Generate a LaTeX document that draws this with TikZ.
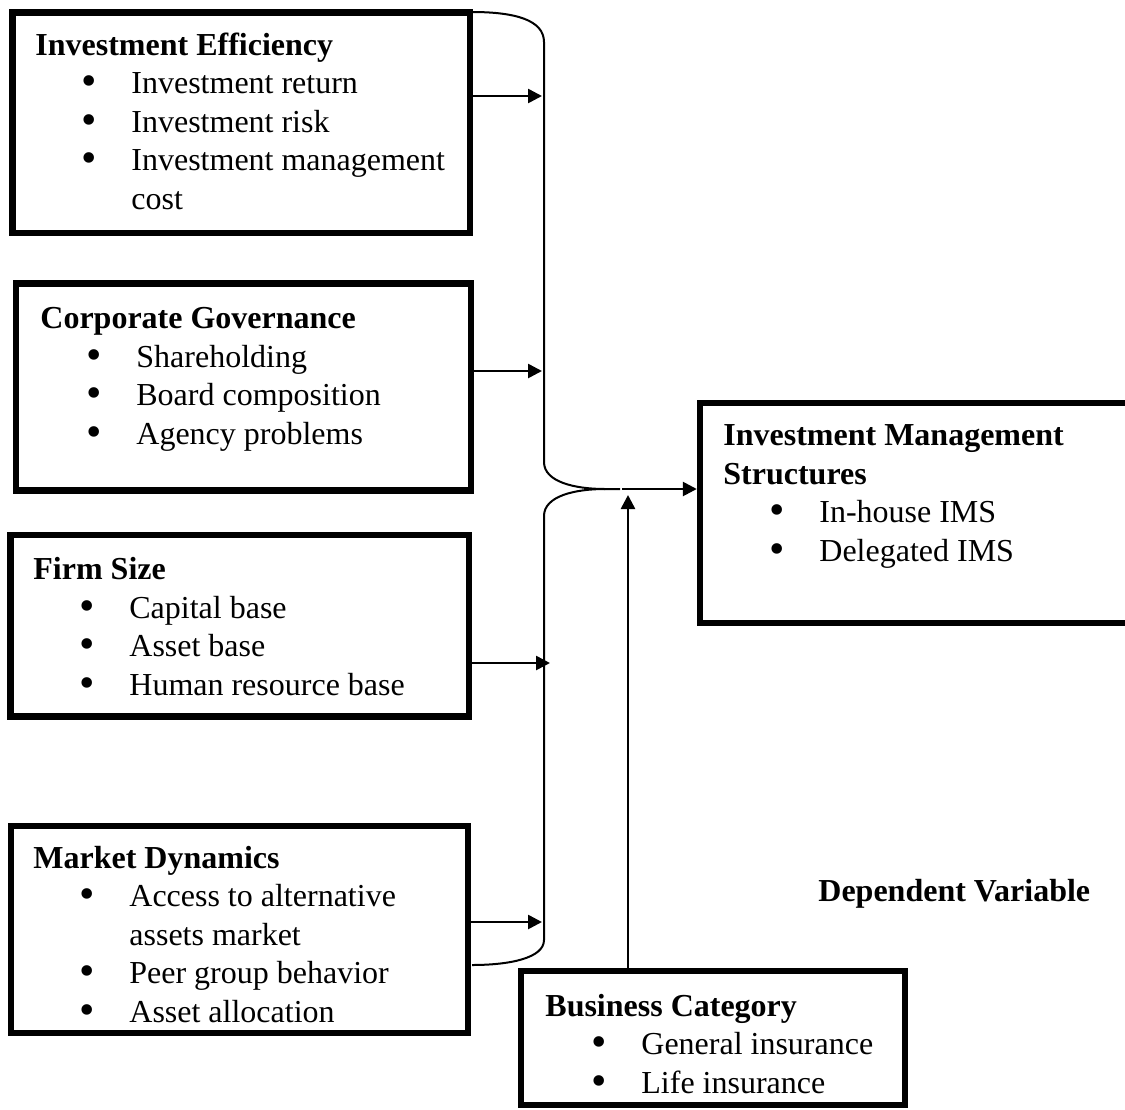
\documentclass[tikz,border=0pt]{standalone}
\usepackage{fontspec}
\setmainfont{Liberation Serif}
\usepackage{tikz}
\usetikzlibrary{arrows.meta,positioning,calc}
\newcommand{\itembul}{\hspace*{23.15pt}\makebox[24.85pt][l]{\smash{\raisebox{-1pt}{\fontsize{22}{22}\selectfont\textbullet}}}}
\newcommand{\itemcont}{\hspace*{48pt}}

\begin{document}
\begin{tikzpicture}[
  x=0.5pt, y=-0.5pt,
  >={Triangle[length=7pt,width=7pt]},
  box/.style={draw, line width=3.2pt, inner sep=0pt},
  txt/.style={align=left, inner sep=0pt, anchor=base west, font=\fontsize{16}{19.25}\selectfont},
  arr/.style={->, line width=1.3pt},
  brace/.style={line width=1pt},
]
\useasboundingbox (0,0) rectangle (1125,1109);

% boxes
\node[box, minimum width=228.75pt, minimum height=110.25pt] (eff) at (241.25,122.75) {};
\node[box, minimum width=227.5pt, minimum height=103.5pt] (corp) at (243.5,387) {};
\node[box, minimum width=229.25pt, minimum height=90.75pt] (firm) at (239.75,625.75) {};
\node[box, minimum width=228.5pt, minimum height=103.5pt] (mkt) at (239.5,929.5) {};
\node[box, minimum width=192pt, minimum height=67pt] (bus) at (713,1038) {};
\node[box, minimum width=217.5pt, minimum height=110pt] (ims) at (917.5,513) {};

% texts (placed at the baseline of their last line)
\node[txt] (efftxt) at (35,209) {\textbf{Investment Efficiency}\\
  \itembul Investment return\\
  \itembul Investment risk\\
  \itembul Investment management\\
  \itemcont cost};
\node[txt] (corptxt) at (40,444) {\textbf{Corporate Governance}\\
  \itembul Shareholding\\
  \itembul Board composition\\
  \itembul Agency problems};
\node[txt] (firmtxt) at (33,695) {\textbf{Firm Size}\\
  \itembul Capital base\\
  \itembul Asset base\\
  \itembul Human resource base};
\node[txt] (mkttxt) at (33,1022) {\textbf{Market Dynamics}\\
  \itembul Access to alternative\\
  \itemcont assets market\\
  \itembul Peer group behavior\\
  \itembul Asset allocation};
\node[txt] (bustxt) at (545,1093) {\textbf{Business Category}\\
  \itembul General insurance\\
  \itembul Life insurance};
\node[txt] (imstxt) at (723,561) {\textbf{Investment Management}\\
  \textbf{Structures}\\
  \itembul In-house IMS\\
  \itembul Delegated IMS};
\node[txt] (dep) at (818,901) {\textbf{Dependent Variable}};

% brace
\draw[brace] (472,12) .. controls (515,12) and (544,20) .. (544,42) -- (544,462)
  .. controls (544,482) and (575,489) .. (605,489) -- (620,489);
\draw[brace] (605,489) .. controls (575,489) and (544,496) .. (544,516) -- (544,940)
  .. controls (544,958) and (510,965) .. (472,965);

\coordinate (b1) at (542,96);
\coordinate (b2) at (542,371);
\coordinate (b3) at (550,663);
\coordinate (b4) at (542,922);
\coordinate (join) at (622,489);
\coordinate (busin) at (628,495);

% arrows
\draw[arr] (eff.east |- b1) -- (b1);
\draw[arr] (corp.east |- b2) -- (b2);
\draw[arr] (firm.east |- b3) -- (b3);
\draw[arr] (mkt.east |- b4) -- (b4);
\draw[arr] (join) -- (ims.west |- join);
\draw[arr] (bus.north -| busin) -- (busin);

\end{tikzpicture}
\end{document}
